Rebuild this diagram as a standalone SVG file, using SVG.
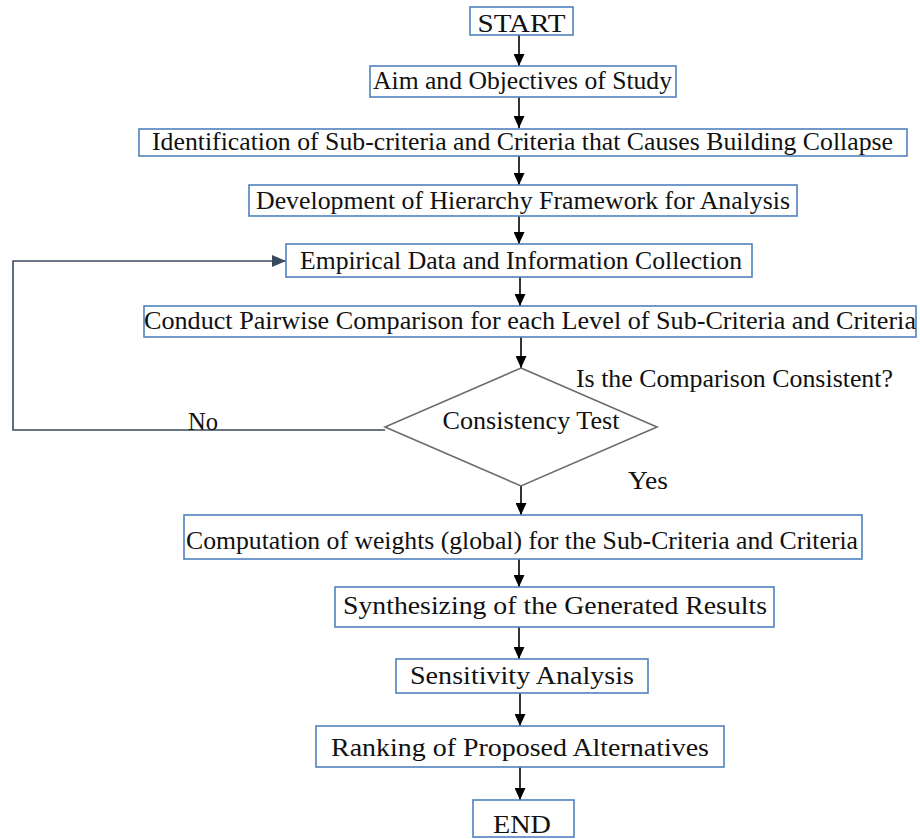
<svg xmlns="http://www.w3.org/2000/svg" width="920" height="839" viewBox="0 0 920 839">
<defs>
<style>
.box{fill:#fff;stroke:#4f81bd;stroke-width:1.6}
.t{font-family:"Liberation Serif","Times New Roman",serif;font-size:26px;fill:#111;text-anchor:middle}
.l{font-family:"Liberation Serif","Times New Roman",serif;font-size:26px;fill:#111}
.c{stroke:#000;stroke-width:1.6;fill:none}
.fb{stroke:#3a4a5e;stroke-width:1.6;fill:none}
</style>
<marker id="ah" markerWidth="11" markerHeight="12" refX="5.5" refY="12" orient="0" markerUnits="userSpaceOnUse">
<path d="M0,0 L11,0 L5.5,12 Z" fill="#000"/>
</marker>
<marker id="ahb" markerWidth="14" markerHeight="12" refX="14" refY="6" orient="auto" markerUnits="userSpaceOnUse">
<path d="M0,0 L14,6 L0,12 Z" fill="#3a4a5e"/>
</marker>
</defs>
<rect width="920" height="839" fill="#fff"/>
<g id="connectors">
<line class="c" x1="519" y1="35" x2="519" y2="66" marker-end="url(#ah)"/>
<line class="c" x1="519" y1="97" x2="519" y2="128" marker-end="url(#ah)"/>
<line class="c" x1="519" y1="156" x2="519" y2="185" marker-end="url(#ah)"/>
<line class="c" x1="519" y1="216" x2="519" y2="244" marker-end="url(#ah)"/>
<line class="c" x1="520" y1="277" x2="520" y2="306" marker-end="url(#ah)"/>
<line class="c" x1="521" y1="337" x2="521" y2="368" marker-end="url(#ah)"/>
<line class="c" x1="521" y1="486" x2="521" y2="515" marker-end="url(#ah)"/>
<line class="c" x1="519" y1="559" x2="519" y2="587" marker-end="url(#ah)"/>
<line class="c" x1="519" y1="627" x2="519" y2="659" marker-end="url(#ah)"/>
<line class="c" x1="520" y1="693" x2="520" y2="726" marker-end="url(#ah)"/>
<line class="c" x1="520" y1="767" x2="520" y2="800" marker-end="url(#ah)"/>
<polyline class="fb" points="385,430 13,430 13,261 286,261" marker-end="url(#ahb)"/>
</g>
<g id="start"><rect class="box" x="470" y="7" width="103" height="28"/><text class="t" x="521.5" y="32" font-size="27" textLength="88" lengthAdjust="spacingAndGlyphs">START</text></g>
<g id="aim"><rect class="box" x="370" y="66" width="306" height="31"/><text class="t" x="522.5" y="89" textLength="299" lengthAdjust="spacingAndGlyphs">Aim and Objectives of Study</text></g>
<g id="identification"><rect class="box" x="139" y="129" width="768" height="27"/><text class="t" x="522.5" y="150" textLength="741" lengthAdjust="spacingAndGlyphs">Identification of Sub-criteria and Criteria that Causes Building Collapse</text></g>
<g id="development"><rect class="box" x="249" y="185" width="548" height="31"/><text class="t" x="523" y="209" textLength="534" lengthAdjust="spacingAndGlyphs">Development of Hierarchy Framework for Analysis</text></g>
<g id="empirical"><rect class="box" x="286" y="244" width="466" height="33"/><text class="t" x="521" y="269" textLength="442" lengthAdjust="spacingAndGlyphs">Empirical Data and Information Collection</text></g>
<g id="conduct"><rect class="box" x="144" y="306" width="772" height="31"/><text class="t" x="530" y="329" textLength="772" lengthAdjust="spacingAndGlyphs">Conduct Pairwise Comparison for each Level of Sub-Criteria and Criteria</text></g>
<g id="consistency"><polygon points="521,368 657,427 521,486 385,427" fill="#fff" stroke="#6b6b6b" stroke-width="1.6"/><text class="t" x="531" y="429" textLength="177" lengthAdjust="spacingAndGlyphs">Consistency Test</text></g>
<text class="l" x="576" y="387" textLength="317" lengthAdjust="spacingAndGlyphs">Is the Comparison Consistent?</text>
<text class="l" x="188" y="430" textLength="30" lengthAdjust="spacingAndGlyphs">No</text>
<text class="l" x="628" y="489" textLength="40" lengthAdjust="spacingAndGlyphs">Yes</text>
<g id="computation"><rect class="box" x="184" y="515" width="678" height="44"/><text class="t" x="522" y="549" textLength="672" lengthAdjust="spacingAndGlyphs">Computation of weights (global) for the Sub-Criteria and Criteria</text></g>
<g id="synthesizing"><rect class="box" x="335" y="587" width="439" height="40"/><text class="t" x="555" y="614" textLength="424" lengthAdjust="spacingAndGlyphs">Synthesizing of the Generated Results</text></g>
<g id="sensitivity"><rect class="box" x="396" y="659" width="252" height="34"/><text class="t" x="522" y="684" textLength="224" lengthAdjust="spacingAndGlyphs">Sensitivity Analysis</text></g>
<g id="ranking"><rect class="box" x="316" y="726" width="408" height="41"/><text class="t" x="520" y="756" textLength="378" lengthAdjust="spacingAndGlyphs">Ranking of Proposed Alternatives</text></g>
<g id="end"><rect class="box" x="473" y="800" width="101" height="37"/><text class="t" x="522" y="833" font-size="27" textLength="58" lengthAdjust="spacingAndGlyphs">END</text></g>
</svg>
